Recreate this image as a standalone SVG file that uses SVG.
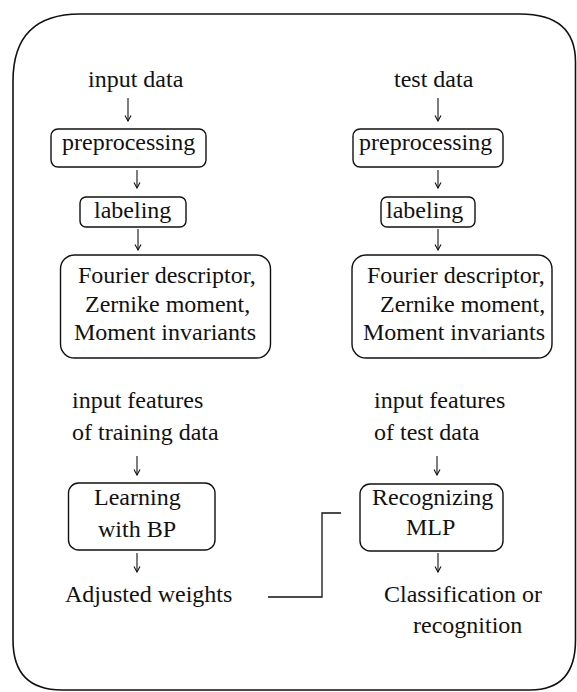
<svg xmlns="http://www.w3.org/2000/svg" width="577" height="692" viewBox="0 0 577 692">
<defs>
<marker id="ah" markerWidth="8" markerHeight="8" refX="7" refY="4" orient="auto" markerUnits="userSpaceOnUse" viewBox="0 0 8 8">
<path d="M1.5,1 L7,4 L1.5,7" fill="none" stroke="#111" stroke-width="1.1"/>
</marker>
</defs>
<path d="M13,81 Q13,14 80,14 H520 Q575.5,14 575.5,62 V640 Q575.5,690 530,690 H62 Q13,690 13,640 Z" fill="none" stroke="#111" stroke-width="1.6"/>
<g fill="#111">
<g id="input-data"><text x="88" y="87" font-family="Liberation Serif" font-size="24">input data</text></g>
<g id="test-data"><text x="394" y="87" font-family="Liberation Serif" font-size="24">test data</text></g>
<g id="prep-left"><rect x="51" y="129" width="155" height="38" rx="7" fill="none" stroke="#111" stroke-width="1.4"/><text x="62" y="150" font-family="Liberation Serif" font-size="24">preprocessing</text></g>
<g id="prep-right"><rect x="353" y="129" width="150" height="38" rx="7" fill="none" stroke="#111" stroke-width="1.4"/><text x="359" y="150" font-family="Liberation Serif" font-size="24">preprocessing</text></g>
<g id="label-left"><rect x="80" y="197" width="106" height="30" rx="6" fill="none" stroke="#111" stroke-width="1.4"/><text x="94" y="218" font-family="Liberation Serif" font-size="24">labeling</text></g>
<g id="label-right"><rect x="381" y="197" width="94" height="30" rx="6" fill="none" stroke="#111" stroke-width="1.4"/><text x="386" y="218" font-family="Liberation Serif" font-size="24">labeling</text></g>
<g id="feat-left"><rect x="60.5" y="255" width="210" height="103" rx="14" fill="none" stroke="#111" stroke-width="1.4"/>
<text x="78" y="283" font-family="Liberation Serif" font-size="24">Fourier descriptor,</text>
<text x="85" y="312" font-family="Liberation Serif" font-size="24">Zernike moment,</text>
<text x="74" y="340" font-family="Liberation Serif" font-size="24">Moment invariants</text></g>
<g id="feat-right"><rect x="352" y="255" width="200" height="103" rx="14" fill="none" stroke="#111" stroke-width="1.4"/>
<text x="367" y="283" font-family="Liberation Serif" font-size="24">Fourier descriptor,</text>
<text x="380" y="312" font-family="Liberation Serif" font-size="24">Zernike moment,</text>
<text x="363" y="340" font-family="Liberation Serif" font-size="24">Moment invariants</text></g>
<g id="infeat-left"><text x="72" y="408" font-family="Liberation Serif" font-size="24">input features</text><text x="72" y="440" font-family="Liberation Serif" font-size="24">of training data</text></g>
<g id="infeat-right"><text x="374" y="408" font-family="Liberation Serif" font-size="24">input features</text><text x="374" y="440" font-family="Liberation Serif" font-size="24">of test data</text></g>
<g id="learning"><rect x="68.5" y="483" width="146.5" height="67" rx="10" fill="none" stroke="#111" stroke-width="1.4"/><text x="94" y="505" font-family="Liberation Serif" font-size="24">Learning</text><text x="98" y="537" font-family="Liberation Serif" font-size="24">with BP</text></g>
<g id="recognizing"><rect x="360" y="484" width="143" height="67" rx="10" fill="none" stroke="#111" stroke-width="1.4"/><text x="372" y="505" font-family="Liberation Serif" font-size="24">Recognizing</text><text x="406" y="535" font-family="Liberation Serif" font-size="24">MLP</text></g>
<g id="adjusted"><text x="65" y="602" font-family="Liberation Serif" font-size="24">Adjusted weights</text></g>
<g id="classification"><text x="384" y="602" font-family="Liberation Serif" font-size="24">Classification or</text><text x="413" y="633" font-family="Liberation Serif" font-size="24">recognition</text></g>
</g>
<g id="connectors" fill="none" stroke="#111" stroke-width="1.1">
<line x1="128" y1="98" x2="128" y2="121" marker-end="url(#ah)"/>
<line x1="438" y1="98" x2="438" y2="121" marker-end="url(#ah)"/>
<line x1="137" y1="170" x2="137" y2="188" marker-end="url(#ah)"/>
<line x1="438" y1="170" x2="438" y2="188" marker-end="url(#ah)"/>
<line x1="138" y1="229" x2="138" y2="250" marker-end="url(#ah)"/>
<line x1="438" y1="229" x2="438" y2="250" marker-end="url(#ah)"/>
<line x1="137" y1="456" x2="137" y2="475" marker-end="url(#ah)"/>
<line x1="437" y1="456" x2="437" y2="475" marker-end="url(#ah)"/>
<line x1="137" y1="553" x2="137" y2="572" marker-end="url(#ah)"/>
<line x1="438" y1="553" x2="438" y2="572" marker-end="url(#ah)"/>
<path d="M268,597 H322 V513 H341" stroke-width="1.3"/>
</g>
</svg>
